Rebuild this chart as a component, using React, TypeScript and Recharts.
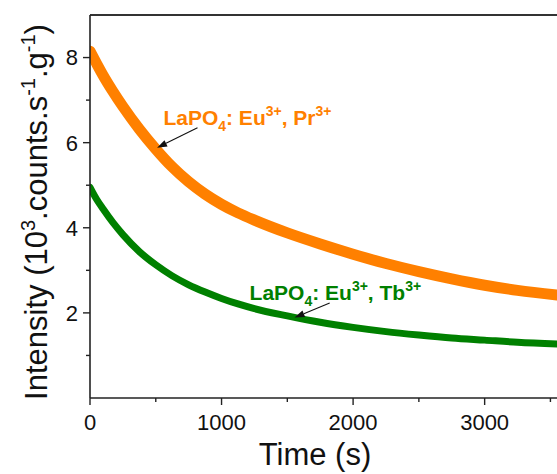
import { LineChart, Line, XAxis, YAxis, ReferenceLine, ReferenceDot } from 'recharts';

// decay curves (time in s, intensity in 10^3 counts/s/g)
const times = [0, 50, 100, 175, 250, 375, 500, 625, 750, 875, 1000, 1125, 1250, 1500, 1750, 2000, 2250, 2500, 2750, 3000, 3250, 3550];
const prValues = [8.15, 7.86, 7.58, 7.2, 6.85, 6.32, 5.85, 5.43, 5.08, 4.79, 4.55, 4.35, 4.18, 3.88, 3.62, 3.38, 3.16, 2.97, 2.8, 2.65, 2.53, 2.42];
const tbValues = [4.95, 4.67, 4.44, 4.12, 3.84, 3.44, 3.13, 2.87, 2.66, 2.49, 2.34, 2.21, 2.1, 1.93, 1.78, 1.66, 1.56, 1.48, 1.41, 1.36, 1.31, 1.27];

const xTicks = [0, 500, 1000, 1500, 2000, 2500, 3000, 3500];
const yTicks = [1, 2, 3, 4, 5, 6, 7, 8];

const rows = times.map((t, i) => ({ t, pr: prValues[i], tb: tbValues[i] }));

const FONT = '"Liberation Sans", Arial, sans-serif';
const ORANGE = '#FF8000';
const GREEN = '#008000';

function XTick(props: any) {
    const { x, y, payload } = props;
    const major = payload.value % 1000 === 0;
    return (
        <g>
            <line x1={x} x2={x} y1={y} y2={y + (major ? 7 : 4)} stroke="#222" strokeWidth={1.4} />
            {major && (
                <text x={x} y={y + 32} textAnchor="middle" fontSize={22} fontFamily={FONT} fill="#111">
                    {payload.value}
                </text>
            )}
        </g>
    );
}

function YTick(props: any) {
    const { x, y, payload } = props;
    const major = payload.value % 2 === 0;
    return (
        <g>
            <line x1={x - (major ? 7 : 4)} x2={x} y1={y} y2={y} stroke="#222" strokeWidth={1.4} />
            {major && (
                <text x={x - 12} y={y} dy="0.36em" textAnchor="end" fontSize={22} fontFamily={FONT} fill="#111">
                    {payload.value}
                </text>
            )}
        </g>
    );
}

function XTitle() {
    return (
        <text x={315} y={465} textAnchor="middle" fontSize={31} fontFamily={FONT} fill="#111">
            Time (s)
        </text>
    );
}

function YTitle() {
    return (
        <text x={47} y={212} transform="rotate(-90, 47, 212)" textAnchor="middle" fontSize={31} fontFamily={FONT} fill="#111">
            <tspan>Intensity (10</tspan>
            <tspan fontSize={20} dy={-12}>3</tspan>
            <tspan dy={12}>.counts.s</tspan>
            <tspan fontSize={20} dy={-12}>-1</tspan>
            <tspan dy={12}>.g</tspan>
            <tspan fontSize={20} dy={-12}>-1</tspan>
            <tspan dy={12}>)</tspan>
        </text>
    );
}

function makeLabel(dopant: string, color: string) {
    return (p: any) => (
        <text x={p.cx} y={p.cy} fontSize={21} fontWeight="bold" fontFamily={FONT} fill={color}>
            <tspan>LaPO</tspan>
            <tspan fontSize={14} dy={6}>4</tspan>
            <tspan dy={-6}>: Eu</tspan>
            <tspan fontSize={14} dy={-9}>3+</tspan>
            <tspan dy={9}>, {dopant}</tspan>
            <tspan fontSize={14} dy={-9}>3+</tspan>
        </text>
    );
}

function Arrow(p: any) {
    const { x1, y1, x2, y2 } = p;
    const ang = Math.atan2(y2 - y1, x2 - x1);
    const len = 10;
    const half = 3.5;
    const bx = x2 - len * Math.cos(ang);
    const by = y2 - len * Math.sin(ang);
    const px = -Math.sin(ang) * half;
    const py = Math.cos(ang) * half;
    return (
        <g>
            <line x1={x1} y1={y1} x2={bx} y2={by} stroke="#111" strokeWidth={1.1} />
            <polygon points={`${x2},${y2} ${bx + px},${by + py} ${bx - px},${by - py}`} fill="#111" />
        </g>
    );
}

export default function App() {
    return (
        <div style={{ position: 'absolute', left: 0, top: 0, width: 557, height: 474, overflow: 'hidden', background: '#fff' }}>
            <LineChart width={557} height={474} data={rows} margin={{ top: 15, right: 0, bottom: 0, left: 0 }}>
                <XAxis
                    dataKey="t"
                    type="number"
                    domain={[0, 3550]}
                    ticks={xTicks}
                    interval={0}
                    height={76}
                    tickSize={0}
                    tickMargin={0}
                    tickLine={false}
                    tick={<XTick />}
                    axisLine={{ stroke: '#222', strokeWidth: 1.6 }}
                    allowDataOverflow
                    label={<XTitle />}
                />
                <YAxis
                    type="number"
                    domain={[0, 9]}
                    ticks={yTicks}
                    interval={0}
                    width={90}
                    tickSize={0}
                    tickMargin={0}
                    tickLine={false}
                    tick={<YTick />}
                    axisLine={{ stroke: '#222', strokeWidth: 1.6 }}
                    allowDataOverflow
                    label={<YTitle />}
                />
                <ReferenceLine y={9} stroke="#333" strokeWidth={2} />

                <Line
                    type="monotone"
                    dataKey="pr"
                    stroke={ORANGE}
                    strokeWidth={11}
                    strokeLinecap="round"
                    dot={false}
                    activeDot={false}
                    isAnimationActive={false}
                />
                <Line
                    type="monotone"
                    dataKey="tb"
                    stroke={GREEN}
                    strokeWidth={7}
                    strokeLinecap="round"
                    dot={false}
                    activeDot={false}
                    isAnimationActive={false}
                />

                <ReferenceLine
                    segment={[{ x: 817, y: 6.35 }, { x: 510, y: 5.88 }]}
                    ifOverflow="visible"
                    shape={Arrow}
                />
                <ReferenceLine
                    segment={[{ x: 1822, y: 2.23 }, { x: 1555, y: 1.89 }]}
                    ifOverflow="visible"
                    shape={Arrow}
                />
                <ReferenceDot x={558} y={6.42} r={0} ifOverflow="visible" shape={makeLabel('Pr', ORANGE)} />
                <ReferenceDot x={1213} y={2.31} r={0} ifOverflow="visible" shape={makeLabel('Tb', GREEN)} />
            </LineChart>
        </div>
    );
}
